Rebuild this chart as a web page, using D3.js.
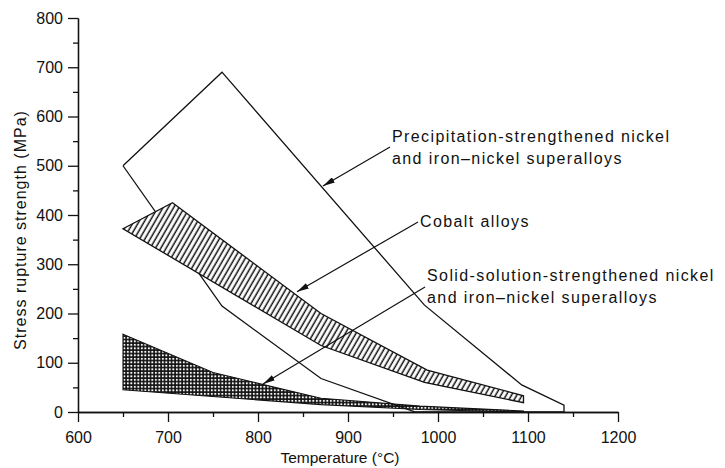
<!DOCTYPE html>
<html>
<head>
<meta charset="utf-8">
<script src="https://cdn.jsdelivr.net/npm/d3@7"></script>
<style>
  html, body { margin: 0; padding: 0; background: #fff; }
  svg text { font-family: "Liberation Sans", Arial, Helvetica, sans-serif; fill: #111; }
</style>
</head>
<body>
<svg id="chart" width="725" height="468"></svg>
<script>
// Outline of each alloy band as [temperature °C, stress MPa] pairs, traced round the region
const precipitationOutline = [[650,500],[760,690],[985,217],[1093,55],[1140,14],[1140,0],[975,0],[870,68],[760,215],[650,500]];
const cobaltOutline = [[650,372],[705,425],[870,200],[988,85],[1095,33],[1095,19],[985,60],[870,135],[650,372]];
const solidSolutionOutline = [[650,158],[750,80],[870,28],[980,12],[1095,2],[1095,0],[980,5],[870,15],[650,45]];

// Axis ticks
const xMajorTicks = [600,700,800,900,1000,1100,1200];
const xMinorTicks = [650,750,850,950,1050,1150];
const yMajorTicks = [0,100,200,300,400,500,600,700,800];
const yMinorTicks = [50,150,250,350,450,550,650,750];

// Callouts: label lines, where the leader starts and where its arrow points (data units)
const calloutLabels = [
  ["Precipitation-strengthened nickel", "and iron\u2013nickel superalloys"],
  ["Cobalt alloys"],
  ["Solid-solution-strengthened nickel", "and iron\u2013nickel superalloys"]
];
const calloutFrom = [[946.7,538],[977.8,386],[985.6,254]];
const calloutTo = [[872.2,459],[843.3,244],[805.6,57]];

const svg = d3.select("#chart");
const x = d3.scaleLinear().domain([600,1200]).range([78,618]);
const y = d3.scaleLinear().domain([0,800]).range([412,18]);

const defs = svg.append("defs");

// Diagonal hatching for the cobalt band
const hatch = defs.append("pattern")
  .attr("id","hatch").attr("patternUnits","userSpaceOnUse")
  .attr("width",4.6).attr("height",10)
  .attr("patternTransform","rotate(30)");
hatch.append("rect").attr("width",4.6).attr("height",10).attr("fill","#fff");
hatch.append("line").attr("x1",1.2).attr("x2",1.2).attr("y1",0).attr("y2",10)
  .attr("stroke","#111").attr("stroke-width",1.5);

// Dense dotted mesh for the solid-solution band
const mesh = defs.append("pattern")
  .attr("id","mesh").attr("patternUnits","userSpaceOnUse")
  .attr("width",3.5).attr("height",3.5);
mesh.append("rect").attr("width",3.5).attr("height",3.5).attr("fill","#111");
mesh.append("rect").attr("x",0.9).attr("y",0.9).attr("width",1.9).attr("height",1.9).attr("fill","#fff");

defs.append("marker")
  .attr("id","arrow").attr("viewBox","0 0 12 6")
  .attr("refX",12).attr("refY",3)
  .attr("markerUnits","userSpaceOnUse")
  .attr("markerWidth",12).attr("markerHeight",6)
  .attr("orient","auto")
  .append("path").attr("d","M0,0 L12,3 L0,6 Z").attr("fill","#111");

const line = d3.line().x(d => x(d[0])).y(d => y(d[1]));

// Bands
svg.append("path").datum(solidSolutionOutline)
  .attr("d", d => line(d) + "Z")
  .attr("fill","url(#mesh)").attr("stroke","#111").attr("stroke-width",1.1);

svg.append("path").datum(precipitationOutline)
  .attr("d", line)
  .attr("fill","none").attr("stroke","#111").attr("stroke-width",1.3);

svg.append("path").datum(cobaltOutline)
  .attr("d", d => line(d) + "Z")
  .attr("fill","url(#hatch)").attr("stroke","#111").attr("stroke-width",1.3);

// Axes
function styleAxis(g) {
  g.selectAll("path, line").attr("stroke","#111").attr("stroke-width",1.3);
  g.selectAll("text").style("font-size","16px").attr("fill","#111");
}

svg.append("g").attr("transform","translate(0,412)")
  .call(d3.axisBottom(x).tickValues(xMinorTicks).tickSize(5).tickFormat("").tickSizeOuter(0))
  .call(styleAxis);
svg.append("g").attr("transform","translate(0,412)")
  .call(d3.axisBottom(x).tickValues(xMajorTicks).tickSize(10).tickPadding(10)
    .tickFormat(d3.format("d")).tickSizeOuter(0))
  .call(styleAxis);

svg.append("g").attr("transform","translate(78,0)")
  .call(d3.axisLeft(y).tickValues(yMinorTicks).tickSize(5).tickFormat("").tickSizeOuter(0))
  .call(styleAxis);
svg.append("g").attr("transform","translate(78,0)")
  .call(d3.axisLeft(y).tickValues(yMajorTicks).tickSize(10).tickPadding(5)
    .tickFormat(d3.format("d")).tickSizeOuter(0))
  .call(styleAxis);

// Axis titles
svg.append("text").attr("x",340).attr("y",463).attr("text-anchor","middle")
  .style("font-size","15.5px").text("Temperature (\u00b0C)");
svg.append("text").attr("transform","translate(26,230) rotate(-90)")
  .attr("text-anchor","middle").style("font-size","16px").style("letter-spacing","1px")
  .text("Stress rupture strength (MPa)");

// Callout leaders
calloutFrom.forEach((p, i) => {
  svg.append("line")
    .attr("x1", x(p[0])).attr("y1", y(p[1]))
    .attr("x2", x(calloutTo[i][0])).attr("y2", y(calloutTo[i][1]))
    .attr("stroke","#111").attr("stroke-width",1.2)
    .attr("marker-end","url(#arrow)");
});

// Callout labels, placed just right of each leader's start
calloutLabels.forEach((lines, i) => {
  const px = x(calloutFrom[i][0]) + 2;
  const py = y(calloutFrom[i][1]);
  const t = svg.append("text").style("font-size","16px").style("letter-spacing","1.4px");
  const first = py - (lines.length - 1) * 11 + 5.5;
  lines.forEach((s, j) => {
    t.append("tspan").attr("x", px).attr("y", first + j * 22).text(s);
  });
});
</script>
</body>
</html>
